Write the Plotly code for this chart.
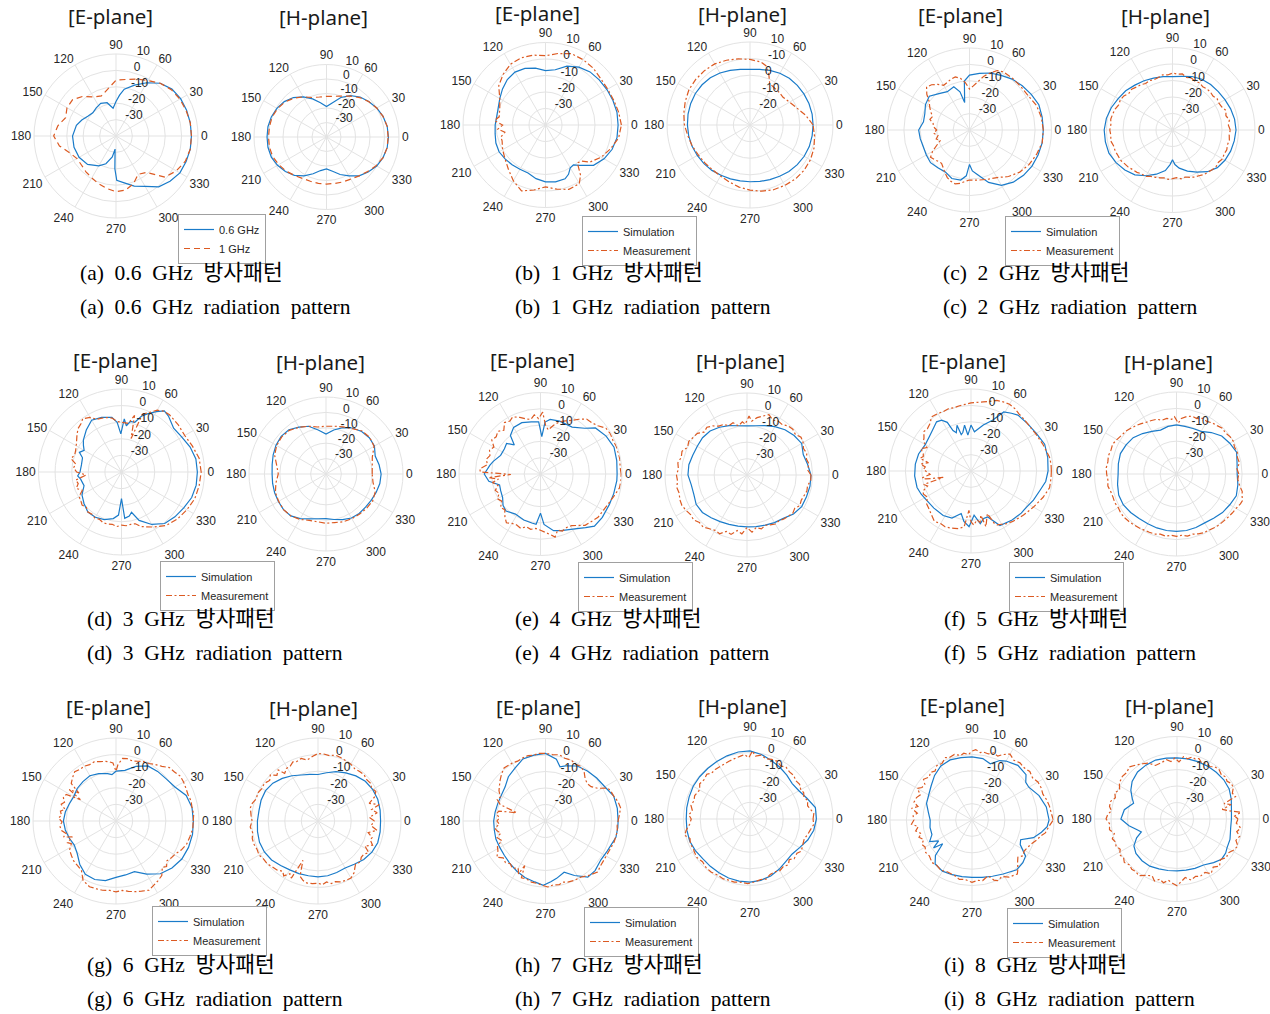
import plotly.graph_objects as go

W, H = 1270, 1014

# ---------------- data: (angle deg, gain dB) pairs ----------------
TH10 = [0, 10, 20, 30, 40, 50, 60, 70, 80, 90, 100, 110, 120, 130, 140, 150, 160, 170,
        180, 190, 200, 210, 220, 230, 240, 250, 260, 270, 280, 290, 300, 310, 320, 330, 340, 350]

# (a) 0.6 GHz / 1 GHz
A_E_SIM = [(0,6),(10,6),(20,5.8),(30,5.5),(40,4.5),(50,2),(60,-2.5),(70,-7),(80,-11),(85,-15),(90,-19),(96,-23),(105,-19),(115,-18),(125,-19),(135,-20),(145,-19),(155,-17),(165,-15),(180,-13.5),(195,-13.5),(210,-14),(225,-15.5),(240,-19),(250,-22),(260,-27),(266,-32),(268,-20),(271,-13),(280,-11),(290,-7.5),(300,-4.5),(310,0.5),(320,3),(330,5),(340,5.5),(350,6)]
A_E_MEA = [(0,6),(10,6),(20,5.5),(30,5),(40,4),(50,2),(60,-1),(70,-3),(80,-5),(90,-6),(100,-11),(110,-14),(120,-12.5),(130,-8.5),(140,-5.5),(150,-5.5),(160,-7.3),(170,-4),(180,-2),(190,-5),(200,-10),(210,-12.5),(220,-12.5),(230,-11.5),(240,-10.5),(250,-9),(260,-7.5),(270,-6),(280,-6.5),(290,-9),(300,-13),(310,-11),(320,-1),(330,2.5),(340,5),(350,6)]
A_H_SIM = [2.7,2.5,1.5,0,-2,-4,-7,-11,-16,-19,-16,-12,-8,-4.5,-2,-0.5,0.5,1,1,1,0.5,-1,-3,-5.5,-9,-13,-16.5,-18,-16,-12.5,-9,-5,-2.5,0,1.5,2.5]
A_H_MEA = [2.5,2.5,1.5,0,-2,-4.5,-7.5,-10,-11.5,-12,-12,-11,-8,-5,-2.5,-1,0,0,0,0,-0.5,-2,-3.5,-5.5,-7,-7.5,-7.5,-7.5,-7.5,-7,-6.5,-5,-3,-0.5,1.5,2.5]

# (b) 1 GHz
B_E_SIM = [(0,4),(10,4),(20,3.5),(30,3),(40,2.5),(50,2),(60,0.5),(70,-2),(80,-6),(90,-7),(100,-5),(110,-3.5),(120,-3),(130,-4),(140,-6),(150,-8),(160,-9.5),(170,-10),(180,-9.5),(190,-9),(200,-8),(210,-7.5),(220,-8),(230,-8.5),(240,-9),(250,-9),(260,-7),(270,-5.5),(280,-5),(290,-5.3),(295,-7),(300,-10),(305,-10.5),(310,-8),(320,-2),(330,1),(340,3),(350,4)]
B_E_MEA = [(0,6),(10,5),(20,4),(30,3.5),(40,3.7),(50,5),(60,5.7),(70,6),(80,4),(90,2),(100,3),(110,3.3),(120,2.5),(130,0),(140,-3),(150,-8),(160,-10.5),(170,-11.5),(175,-9),(180,-14),(185,-11),(190,-15),(195,-12),(200,-12),(210,-10),(220,-8),(230,-5),(240,-1),(250,2.5),(260,0),(270,-2.5),(280,-0.5),(290,1.5),(300,1),(305,-3),(310,-10),(315,-9),(320,-5),(330,-1),(340,2),(350,5)]
B_H_SIM = [-2,-2,-2.2,-2.5,-2.8,-3.2,-4,-5,-6,-6.5,-6,-5,-3.8,-2.8,-2.3,-2,-2,-2.1,-2.3,-2.5,-2.8,-3.3,-3.8,-4.3,-5,-5.5,-5.8,-5.8,-5.5,-5,-4.3,-3.5,-2.8,-2.3,-2,-2]
B_H_MEA = [(0,-2),(10,-6),(20,-10),(30,-12.5),(40,-14),(50,-13.5),(60,-13),(65,-12),(70,-7),(75,-3),(80,-1.5),(90,-0.5),(100,0.5),(110,1.5),(120,2.5),(130,2.7),(140,2.7),(150,2.5),(160,1.5),(170,0.5),(180,-0.5),(190,-2),(200,-3),(210,-4),(220,-4.5),(230,-4.8),(240,-4.5),(250,-3.5),(260,-2),(270,-0.8),(280,0.5),(290,1.5),(300,2),(310,2.5),(320,2.5),(330,2),(340,1),(350,-0.5)]

# (c) 2 GHz
C_E_SIM = [(0,5),(10,5),(20,5),(30,3.5),(40,2),(50,0.5),(60,-1.5),(70,-3),(80,-5),(90,-6.5),(96,-10),(100,-23),(104,-16),(110,-12),(120,-13),(130,-11),(140,-8),(150,-9),(160,-11),(170,-11.5),(180,-9),(190,-9.5),(200,-10),(210,-9.6),(220,-9),(230,-10),(240,-10.5),(250,-8.5),(260,-9),(266,-12),(270,-19),(274,-15),(280,-12.5),(290,-6),(300,-1),(310,1.5),(320,3),(330,4),(340,4.5),(350,5)]
C_E_MEA = [(0,5),(10,4.5),(20,3.5),(30,1.5),(40,1),(50,1),(60,1),(65,0),(70,-3),(75,-6),(80,-10),(85,-13),(90,-15),(95,-11),(100,-8),(105,-6.5),(110,-7),(115,-8),(120,-8.5),(125,-6),(130,-4),(135,-3),(140,-6),(145,-10),(150,-12),(155,-14),(160,-16),(165,-15),(170,-17.5),(175,-18),(180,-20),(185,-18),(190,-20.5),(195,-19),(200,-21),(205,-18),(210,-14),(215,-11),(220,-12),(225,-13),(230,-13.5),(235,-12),(240,-10),(245,-8),(250,-6.7),(255,-6),(260,-7),(265,-8.5),(270,-9.5),(280,-9),(290,-8),(300,-6.5),(310,-3),(320,0),(330,2),(340,3.5),(350,5)]
C_H_SIM = [(0,-1.5),(10,-1.8),(20,-2.5),(30,-3.3),(40,-3.8),(50,-4),(60,-4.5),(70,-5.5),(80,-7),(90,-7.6),(100,-7.2),(110,-6.5),(120,-5.5),(130,-4.5),(140,-3),(150,-2),(160,-0.5),(170,0.7),(180,1.4),(190,1.3),(200,1),(210,-0.5),(220,-2.3),(230,-4.5),(240,-8),(250,-11.5),(260,-15),(266,-19),(270,-22),(274,-19),(280,-16.5),(290,-13.5),(300,-10.5),(310,-7),(320,-4.5),(330,-3.3),(340,-2.5),(350,-2)]
C_H_MEA = [(0,-5),(5,-6),(10,-5),(15,-6.5),(20,-5.5),(25,-7),(30,-7.5),(35,-7),(40,-8),(45,-7.5),(50,-7.5),(55,-8),(60,-7),(65,-7.5),(70,-6.5),(75,-7),(80,-5.5),(85,-6),(90,-5.5),(95,-6.5),(100,-6),(105,-7),(110,-7.5),(115,-7),(120,-7.5),(125,-6.5),(130,-6),(135,-5),(140,-5.5),(145,-4),(150,-3.5),(155,-4),(160,-3),(165,-2.5),(170,-2),(175,-2.5),(180,-2),(185,-2.5),(190,-2),(195,-3),(200,-3),(205,-3.5),(210,-3.5),(215,-4.5),(220,-5),(225,-6),(230,-6.5),(235,-7.5),(240,-7.5),(245,-9),(250,-9.5),(255,-10),(260,-10.5),(265,-10),(270,-10.5),(275,-11),(280,-10),(285,-10.5),(290,-9.5),(295,-8.5),(300,-8),(305,-7),(310,-6.5),(315,-6),(320,-5.5),(325,-6),(330,-5),(335,-5.5),(340,-5),(345,-5.5),(350,-5),(355,-5.5)]

# (d) 3 GHz
D_E_SIM = [(0,5.7),(10,5.5),(20,4),(30,2),(40,1),(50,4),(55,5),(60,2),(65,-1),(70,-4),(75,-9),(80,-9),(84,-12),(87,-8),(91,-17),(95,-10),(100,-6.5),(110,-5),(120,-4),(130,-7),(140,-10),(145,-12),(150,-14),(155,-12),(160,-15),(170,-15.5),(180,-15),(185,-13.5),(190,-15),(200,-16),(210,-12.5),(220,-10.5),(230,-8.5),(240,-8.5),(250,-9.5),(260,-11.5),(266,-14),(270,-24),(274,-12),(280,-13),(284,-15),(290,-9),(300,-3.5),(310,0.5),(320,2),(330,3.3),(340,5),(350,5.7)]
D_E_MEA = [(0,8),(10,7.5),(20,5.5),(30,4),(40,4.5),(50,5),(55,4.7),(60,3),(65,-0.5),(70,-3),(74,-19),(77,-5),(82,-10.5),(90,-10),(95,-9.5),(100,-7),(105,-6),(110,-5.5),(115,-5),(120,-2),(126,-0.3),(130,-2),(135,-3),(140,-5),(145,-7),(150,-8.5),(155,-9.5),(160,-10),(165,-8.5),(170,-12),(175,-11),(180,-13),(185,-18.5),(190,-12),(195,-13),(200,-11),(205,-14),(210,-10.5),(215,-10),(220,-9),(225,-10),(230,-8.5),(235,-9),(240,-8),(245,-8.5),(250,-7.5),(255,-7.5),(260,-8),(265,-7),(270,-8),(275,-7.5),(280,-8),(285,-7.7),(290,-5),(300,-1.7),(310,2),(320,4),(330,5.5),(340,7),(350,7.5)]
D_H_SIM = [-4.2,-5,-6,-3.7,-3.3,-4,-5.5,-8,-11,-14,-11,-7,-4.8,-2.5,-2,-2.5,-3.5,-4.5,-5,-4.8,-4.5,-4.3,-4,-4.5,-6.5,-9,-10.5,-11,-10,-8.5,-7,-6.5,-6.5,-6,-5.3,-4.5]
D_H_MEA = [-10,-9.5,-8,-4,-3,-3.5,-6,-7.5,-8.5,-9,-9,-7,-5,-3,-2.5,-3,-4.5,-7.5,-9,-7,-5,-4.5,-4,-4.5,-6,-8,-8.5,-8,-8,-7,-6.5,-6,-5.5,-5,-6,-9]

# (e) 4 GHz
E_E_SIM = [(0,7),(10,7.5),(20,8),(30,6.5),(40,4),(46,-1),(56,-5.3),(70,-5.5),(80,-6),(85,-8),(88,-17),(92,-8),(100,-7.5),(110,-6.5),(120,-7),(128,-10),(132,-16),(138,-12),(145,-13),(155,-13),(165,-10),(170,-8.5),(180,-5.5),(188,-8),(195,-14),(203,-13.5),(212,-12.6),(220,-10),(227,-9),(238,-11),(250,-10),(260,-9.5),(265,-9),(270,-16),(274,-9),(283,-4.3),(290,-3),(302,-0.3),(310,3),(316,6),(325,6.3),(336,6.2),(345,6.5),(355,7)]
E_E_MEA = [(0,9.5),(5,9),(10,9.5),(15,9.5),(20,9.5),(25,9),(30,9.5),(35,9),(40,6),(45,4.5),(50,4),(55,1),(60,-2),(65,-4),(70,-6),(75,-9),(80,-12.5),(84,-10),(88,-2),(92,-6),(96,-3.5),(100,-6),(105,-5),(110,-3),(116,-1),(120,-2.5),(125,-1.5),(130,-5),(135,-3),(140,-4.5),(145,-3.5),(150,-7),(155,-5.5),(160,-7),(165,-5.5),(170,-7),(175,-2.7),(178,-3),(181,-21.8),(184,-8),(187,-14),(190,-10),(195,-13),(200,-10.5),(205,-12),(210,-9.5),(215,-11),(220,-8),(225,-9),(230,-6),(235,-3.5),(240,-5),(245,-5.5),(250,-4.5),(255,-6.5),(260,-5.5),(265,-6.5),(270,-5.5),(275,-4),(280,-2),(283,-0.3),(287,-4),(291,-2.5),(296,-3.5),(301,-3),(306,-1),(311,1.7),(316,2.5),(323,4.2),(330,4.5),(336,5.4),(343,7),(350,9.2),(355,9.5)]
E_H_SIM = [-1,-2.5,-3.5,-1.5,-2.5,-4,-6,-8,-9.5,-10,-9.5,-8,-6.4,-5,-4.6,-5,-4.8,-4,-4,-5.5,-5.5,-4.2,-4.5,-6,-7.2,-8,-8.3,-8.4,-8,-7.5,-6.5,-5.5,-3,-1.5,-1.4,-1]
E_H_MEA = [(0,-1),(5,-3),(10,-1.6),(15,-2.5),(20,-1.2),(25,-2),(30,-0.5),(35,0.2),(40,-1.5),(45,-0.5),(50,-1),(55,-2.5),(60,-2),(65,-3),(70,-0.8),(75,-2.8),(80,-4.5),(85,-7),(88,-4),(92,-9),(95,-7.5),(100,-9.6),(105,-7),(110,-8),(115,-6),(120,-5.6),(125,-3.5),(130,-2),(135,-3),(140,-0.5),(145,0),(150,1),(155,0),(160,2.2),(165,1.5),(170,2.8),(175,2),(180,3),(185,2.5),(190,3.5),(195,2.8),(200,3.6),(205,3.8),(210,3),(215,2),(220,2.5),(225,1),(230,1.5),(235,0),(240,-1),(245,-0.5),(250,-3.4),(255,-2.5),(260,-5.6),(265,-4),(270,-8),(275,-5),(280,-7.5),(285,-6),(290,-7.4),(295,-6.5),(300,-5.5),(305,-6),(310,-5),(315,-4.5),(320,-3.6),(325,-4.5),(330,-2.8),(335,-3.5),(340,-3),(345,-2.2),(350,-2.5),(355,-1)]

# (f) 5 GHz
F_E_SIM = [(0,7),(10,7.5),(20,7.8),(30,6),(40,5),(50,4.5),(55,3),(61,1.2),(67,-6.4),(75,-11),(85,-16),(90,-12),(95,-18),(98,-11.8),(102,-16),(105,-17),(107,-10.8),(111,-15),(114,-13),(116,-7),(120,-4.2),(125,-3.4),(131,-5.2),(140,-7),(150,-7.8),(162,-6.4),(173,-5.8),(185,-5.5),(197,-5.6),(205,-6.5),(214,-7.6),(225,-8),(238,-8),(248,-9),(257,-13.4),(262,-9),(268,-6),(271,-10),(274,-13),(280,-7.4),(285,-10),(290,-10.2),(298,-2.4),(310,-1),(320,0),(327,0.4),(335,2),(344,3.6),(352,6)]
F_E_MEA = [(0,9),(5,9),(10,8.6),(15,7.5),(20,6.8),(25,6),(30,5.5),(35,5),(40,5),(45,5.2),(50,5.5),(55,6.5),(60,7),(65,6.5),(70,5.8),(75,4),(80,2.8),(85,2),(90,1.5),(95,0.8),(100,0.4),(105,0),(110,0.4),(115,0),(120,0.5),(126,0.8),(131,-1.8),(136,-3),(140,-2.5),(145,-5),(148,-5.8),(152,-9.6),(156,-6.5),(160,-9),(163,-9.6),(166,-8),(169,-13.6),(172,-9),(175,-12),(178,-11),(181,-13),(184.6,-15),(188,-10),(190,-12),(193,-22.6),(196,-10),(199,-12),(203,-8),(206,-7.8),(211,-9),(216,-6.4),(222,-5.5),(228,-4),(234,-2),(240,-3),(245,-2.5),(250,-3),(254,-3.6),(258,-4),(263,-5.8),(267,-16),(270,-9),(273,-7),(277,-10),(280,-8),(282.5,-12.4),(285,-4.8),(288,-9),(291,-12.2),(294,-5),(296,-3.4),(300,-2.5),(304,-1.2),(310,0),(320,1.8),(330,4),(340,6.8),(348,9),(355,9)]
F_H_SIM = [-3,-2.5,-1,-2.5,-4,-7,-10,-10.5,-10.5,-10,-10.5,-11.5,-10,-7.8,-5.5,-4.5,-3.6,-4,-4.4,-3.5,-2.5,-2.5,-3.5,-4.5,-5,-5,-5,-5,-5,-5.3,-5.6,-4.8,-3.4,-2.5,-1.2,-2]
F_H_MEA = [(0,-2),(5,-3),(10,-1),(15,-1.5),(20,-0.6),(25,-1),(30,0),(35,-0.2),(40,-1),(45,-0.5),(50,-1.5),(55,-2),(60,-3),(65,-2.5),(70,-4),(75,-3.5),(80,-4.4),(85,-6),(88,-9),(92,-5),(95,-6.5),(100,-5.6),(105,-6),(110,-4.5),(115,-4),(120,-3.5),(125,-2.5),(130,-1.5),(135,-0.6),(140,0.5),(145,1),(150,2),(155,3),(160,2.5),(165,3),(170,2.5),(175,3),(180,2.6),(185,2),(190,2.5),(195,1.5),(200,1.2),(205,1.5),(210,1),(215,1.5),(220,1.4),(225,1),(230,0.5),(235,0),(240,-0.5),(245,-0.8),(250,-1),(255,-2),(260,-1.5),(265,-2.5),(270,-2),(275,-2.5),(280,-1.5),(285,-2),(290,-1.2),(295,-0.5),(300,-0.5),(305,0),(310,0.5),(315,0.6),(320,1),(325,1.5),(330,2),(335,3),(338,3.4),(342,2),(345,1.5),(350,-1),(355,-2.5)]

# (g) 6 GHz
G_E_SIM = [(0,6.6),(10,6.5),(20,5),(30,1),(40,-0.5),(50,-1),(60,-1.7),(70,-5),(80,-9),(90,-10),(95,-12),(100,-11),(110,-9.6),(120,-8.5),(130,-9),(140,-9.5),(150,-10.6),(160,-10),(170,-9),(180,-8.3),(190,-9),(200,-10),(210,-11),(220,-9.5),(230,-6),(240,-3),(250,-2.5),(260,-3.5),(270,-6),(280,-7),(290,-7.5),(300,-3),(310,1.5),(320,4),(330,5.8),(340,6.5),(350,6.8)]
G_E_MEA = [(0,6.5),(5,7),(10,6.5),(15,6.8),(20,6.2),(25,6.5),(30,7),(35,7.2),(40,6),(45,5.5),(50,3),(55,1.5),(60,0),(65,-0.5),(70,-1.7),(75,-2.5),(80,-1.8),(84,-2.1),(88,-6),(90,-10),(93,-5),(97,-4),(100,-3.5),(105,-3),(110,-2),(115,-2.5),(120,-1.9),(125,-2),(130,-1.3),(135,-3),(140,-4.8),(143,-12),(146,-6),(149,-15),(152,-6),(156,-5.3),(160,-7),(163,-5.5),(167,-8.5),(170,-6),(174,-7),(177,-5.3),(181,-7.5),(185,-6),(190,-6.7),(194,-9),(197,-7),(200,-12),(204,-8),(207,-9.8),(212,-7),(218,-6),(223,-5),(229,-4.5),(235,-3.7),(241,0.9),(248,2.7),(254,2.5),(259,2.5),(265,2),(270,2.7),(275,2),(280,3),(285.6,4.2),(290,5),(295.5,6.2),(300,5),(305,4),(310,2.9),(315,-0.5),(318,1),(322,-1.1),(326,0),(331,0.9),(336,3),(342,4.8),(348,5.5),(354,6.5)]
G_H_SIM = [-2.3,-2,-1.7,-2,-2.8,-4.5,-6.5,-8.3,-10.5,-12,-11.5,-10.5,-8.5,-6.5,-4.5,-3.5,-3.5,-3.9,-3.5,-3,-2.5,-2.7,-3.5,-5,-6,-6.3,-6.5,-6.3,-6.5,-7,-7.3,-6,-4,-2.5,-1.7,-2]
G_H_MEA = [(0,-6),(4,-9),(8,-4),(12,-7),(15,-1.9),(19,-7.4),(23,-3),(27,-0.9),(32,-2),(36,-1),(40,-1.5),(45,-0.7),(50,-1),(55,-1.5),(60,-0.5),(65,0),(70,0.5),(75,1.1),(80,0),(85,0.5),(90,0.7),(95,-1),(100,-2.7),(105,-1),(110,-2),(113,-1.3),(117,-3),(121,-3.1),(125,-5),(128,-1),(132,-3),(136,-0.1),(140,-2),(145,-0.5),(150,-0.9),(155,0),(160,-0.5),(165,1),(169,1.5),(175,0.5),(180,-0.3),(185,1),(190,0),(195,1),(200,1),(205,0.5),(210,1),(215,0),(220,0),(225,-1),(230,-1.5),(235,-3),(238,-1),(242,-4),(245,-2),(249,-14.6),(252,-5),(256,-3),(260,-2),(265,-2.1),(270,-2.5),(274,-1.5),(278,-2.9),(282,-1.5),(286,-2),(290,-1),(295,-0.5),(300,-0.3),(305,-2),(308,-4),(311,-5.5),(316,-4.5),(320,-6),(324,-5.9),(328,-4),(332,-8),(336,-4),(340,-6.5),(343,-5.9),(347,-9),(351,-4),(355,-8)]

# (h) 7 GHz
H_E_SIM = [(0,4),(10,4.2),(20,4),(30,1.5),(40,0.5),(50,-0.5),(60,-1.5),(70,-4.5),(75,-6),(80,-2),(90,1),(100,0.5),(110,0),(120,-3),(130,-5),(140,-8),(150,-9),(160,-9.2),(170,-9),(180,-8.6),(190,-8.5),(200,-8),(210,-8),(220,-7.5),(230,-6.4),(240,-5),(250,-3.5),(260,-2.5),(268,-1),(275,-3),(281,-4.6),(290,-7),(298,-2.6),(307,2.6),(315,2.5),(325,1),(334,1.6),(347,3.8),(355,4)]
H_E_MEA = [(0,4),(5,5),(10,6.2),(15,5.5),(20,4),(25,3.5),(28,2.6),(32,-2.6),(37,-5.4),(42,-6),(47,-4.8),(52,-2),(57,-0.6),(62,-1),(67,0),(73,-0.2),(78,1),(84,0.5),(90,1),(96,1.2),(100,0.5),(105,1),(110,0.6),(115,0),(120,0.5),(128,0.8),(133,-1),(138,-3),(143,-5),(147,-6.4),(152,-9),(156,-8),(160,-10.8),(164,-21.8),(168,-11),(172,-10),(176,-12),(180,-10.6),(184,-12),(188,-9),(191.5,-10),(195,-12),(199,-9),(204,-11),(208,-7),(212,-6),(216.8,-3.2),(221,-6),(226,-5),(230.5,-6.4),(235,-5),(240,-7),(243,-4),(245,-10.2),(247,-2.6),(252,-3),(257,-2),(263,-1.8),(267,-1),(272,0),(277,-1),(282,-0.5),(286,-1.5),(290,-0.6),(296,0),(302,0.2),(308,2),(315.5,4.2),(321,3),(328,2.5),(335,2.6),(343,3.5),(352,4),(356,3.5)]
H_H_SIM = [0,0,-3.5,-6,-6.8,-5.5,-4,-2.5,-0.5,1,1,0.5,0,-0.3,-0.4,-0.5,-1,-1.3,-1.6,-1.4,-1.3,-2,-2.8,-2.8,-2.6,-2.2,-2,-2,-2.5,-3.5,-5,-6.5,-7,-5.5,-3,-1]
H_H_MEA = [(0,-2),(5,-1.4),(10,-3.5),(13,-4.4),(18,-3.5),(22,-5),(26,-4),(30.5,-4.6),(35,-3.5),(40,-4),(45,-2.8),(50,-3),(55,-2),(60,-3),(65,-1.5),(70,-1.8),(75,-2.5),(80,-1),(85,-2),(88,1),(91,-3),(95,-1),(98,-1.6),(105,-2.5),(110,-3),(118.5,-3.6),(125,-3.5),(130,-4),(134,-2.5),(139,-3.6),(145,-3),(150,-5),(157,-3.8),(162,-4.5),(167,-3.5),(172,-5),(176,-3),(180,-4.6),(185,-3.5),(190,-1),(194,0.6),(198,-2),(203,-1),(207,-1.5),(211,-1),(216,-0.5),(222,-1.5),(228,-0.5),(234,-0.4),(240,-1),(246,-0.5),(250,-1),(256,-0.8),(262,-1.5),(268,-1),(274,-2),(280,-3),(285,-2.5),(290,-4.5),(295.5,-4.8),(300,-4),(305,-5),(310,-4),(314,-6),(318,-4.2),(324,-5),(328,-3.5),(333,-4.5),(340,-5.2),(345,-4),(350,-3),(355,-1.5)]

# (i) 8 GHz
I_E_SIM = [(0,7),(10,6),(20,3.5),(30,0),(35,0),(40,3),(50,3.5),(60,1.5),(65,0),(72,-4),(80,-2),(90,-1.5),(100,-1.4),(110,-1),(120,-2),(130,-4.5),(140,-7.5),(150,-9.5),(160,-10.5),(170,-13),(180,-14.5),(190,-14),(200,-14),(207,-11),(212,-16),(216,-11),(219,-17),(224,-9),(230,-5),(240,-4),(250,-4.5),(260,-5),(270,-5),(280,-4.5),(290,-3.5),(300,-2),(312,0.8),(320,0.5),(326,-0.6),(333,-7),(338,-8),(344,-1),(350,3),(355,6)]
I_E_MEA = [(0,9.6),(5,8.5),(10,8),(15,7.2),(20,6),(25,6.5),(30,6.4),(35,5),(40,6),(45,5),(50,5.5),(55,4.5),(60,6.4),(65,4),(68,2),(72,3),(76,1.5),(80,2),(83,1.4),(87,3),(90,2),(93,0),(97,1),(100,0),(105,1.4),(110,0.5),(113,1.4),(118,-1),(123,-0.5),(127,-2.6),(131,-1.5),(135,-3),(140,-1.4),(143,-4),(147,-3.6),(150,-1.5),(154,-5),(158,-3.5),(163,-3),(166,-6),(169,-2.5),(173,-6.4),(176,-4),(180,-4.6),(184,-3),(187,-7),(191,-5),(195,-8),(198,-6),(202,-8.2),(206,-6),(210,-7),(215,-5.5),(220,-6),(226.8,-4.4),(232,-5),(238,-4),(245,-5),(253,-4.4),(258,-3),(263,-3.5),(270,-2),(275,-3),(280,-2.5),(286,-4.6),(290,-1),(293,0.2),(298,-1),(303,1.5),(310,3),(313,1),(317,-2),(321,-4),(325,-2),(329,-3),(333,-2.4),(338,-1),(343,1.4),(347,3),(350,5.4),(355,7)]
I_H_SIM = [(0,-7),(10,-6.5),(20,-5),(30,-3.5),(40,-3),(50,-3),(60,-3),(70,-3),(80,-3),(90,-3),(100,-2.5),(110,-2),(120,-2.3),(130,-2.8),(140,-4.5),(148,-7),(155,-10),(160,-12),(165,-10),(170,-7.6),(180,-6),(188,-10.6),(195,-15),(200,-17),(205,-13),(212,-9.2),(220,-7.5),(230,-7),(240,-7),(250,-7.8),(260,-8.3),(270,-8.6),(280,-8.5),(290,-8.2),(300,-7.8),(310,-5.5),(318,-3.6),(325,-4),(330,-5),(339,-5.6),(345,-6.5),(350,-7)]
I_H_MEA = [(0,-3),(3,-5),(6,-1),(9,-8),(12,-12),(15,-6),(18,-10),(21,-2),(25,-3),(29,-1),(33,-0.6),(37,-2),(41,-1),(45,-2),(50,-0.5),(54,-1),(58,-2.5),(62,-1.5),(66,-3),(70,-1),(73,-2),(76.5,-1.4),(80,-3),(84,-2),(88,-5.4),(92,-3),(96,-5),(100,-3.5),(105,-4.5),(112,-5),(117,-2),(122,-0.5),(127,1),(132.5,2.8),(137,1.5),(142,2),(148,1.2),(153,-1),(157,1),(161,-0.5),(165,1.6),(169.5,1.6),(173,0),(176,2),(180,3),(184,1),(189,1.4),(193,-1),(197,1),(200,0),(204,0.4),(208,-1),(212,1),(216,0),(219.5,1.4),(224,0),(228,1),(232,0.5),(236,1.4),(241,-1),(246.4,-2.4),(250,0),(254,-2),(258,-0.5),(262,-2.5),(266,-1),(270,0.4),(274,-2),(278,-4.2),(283,-2),(288,-3.5),(292,-2.5),(297.7,-3.4),(302,-1),(307,-3.5),(312,-1.5),(317,-4),(322,-2),(326.6,-2.8),(331,-1),(336,0.4),(340,-2),(344.7,-0.6),(348,-3),(352,-1),(356,-4)]

PANEL_LETTERS = ["a", "b", "c", "d", "e", "f", "g", "h", "i"]
PANEL_FREQS = ["0.6", "1", "2", "3", "4", "5", "6", "7", "8"]
SERIES_NAMES = ["Simulation", "Measurement"]
A_SERIES_NAMES = ["0.6 GHz", "1 GHz"]
PLANE_TITLES = ["[E-plane]", "[H-plane]"]
ANGLE_TICKS = [0, 30, 60, 90, 120, 150, 180, 210, 240, 270, 300, 330]
R_TICKS = [-30, -20, -10, 0, 10]
R_TICKTEXT = ["-30", "-20", "-10", "0", "10"]
B_H_RTICKTEXT = ["-20", "-10", "0", "-10", "10"]

CURVES = [
    (A_E_SIM, A_E_MEA, A_H_SIM, A_H_MEA),
    (B_E_SIM, B_E_MEA, B_H_SIM, B_H_MEA),
    (C_E_SIM, C_E_MEA, C_H_SIM, C_H_MEA),
    (D_E_SIM, D_E_MEA, D_H_SIM, D_H_MEA),
    (E_E_SIM, E_E_MEA, E_H_SIM, E_H_MEA),
    (F_E_SIM, F_E_MEA, F_H_SIM, F_H_MEA),
    (G_E_SIM, G_E_MEA, G_H_SIM, G_H_MEA),
    (H_E_SIM, H_E_MEA, H_H_SIM, H_H_MEA),
    (I_E_SIM, I_E_MEA, I_H_SIM, I_H_MEA),
]

# ---------------- layout geometry (pixels) ----------------
GEOM = [
    [(116, 136, 82), (326.5, 137, 72.5)],
    [(545.5, 125, 82.5), (750, 125, 83)],
    [(969.5, 130, 82), (1172.5, 130, 82.5)],
    [(121.5, 472, 83), (326, 474, 77)],
    [(540.5, 474, 81.5), (747, 475, 82)],
    [(971, 471, 82), (1176.5, 474, 82)],
    [(116, 821, 83), (318, 821, 83)],
    [(545.5, 821, 82.5), (750, 819, 83)],
    [(972, 820, 82), (1177, 819, 82.5)],
]
TITLE_POS = [
    [(110, 16), (323, 17)], [(537, 13), (742, 14)], [(960, 15), (1165, 16)],
    [(115, 360), (320, 362)], [(532, 360), (740, 361)], [(963, 361), (1168, 362)],
    [(108, 707), (313, 708)], [(538, 707), (742, 706)], [(962, 705), (1169, 706)],
]
LEGEND_POS = [(178, 214), (582, 216), (1005, 216), (160, 561), (578, 562), (1009, 562),
              (152, 906), (584, 907), (1007, 908)]
CAPTION_POS = [(78, 273), (513, 273), (941, 273), (85, 619), (513, 619), (942, 619),
               (85, 965), (513, 965), (942, 965)]
CAPTION_GAP = 34

BLUE = "#1a7bc9"
ORANGE = "#dc5a22"
GRID = "#e3e3e3"
TXT = "#262626"
TICK_FONT = dict(family="Liberation Sans, Arial", size=12, color=TXT)


def unpack(curve):
    if isinstance(curve[0], tuple):
        th = [p[0] for p in curve]
        r = [p[1] for p in curve]
    else:
        th = list(TH10)
        r = list(curve)
    return th + [th[0]], r + [r[0]]


fig = go.Figure()
layout = dict()
annotations = []

for p in range(9):
    legend_key = "legend" if p == 0 else f"legend{p + 1}"
    names = A_SERIES_NAMES if p == 0 else SERIES_NAMES
    mea_dash = "6px,4px" if p == 0 else "6px,2.5px,2px,2.5px"
    for plane in range(2):
        idx = 2 * p + plane + 1
        sub = "polar" if idx == 1 else f"polar{idx}"
        cx, cy, R = GEOM[p][plane]
        sim = CURVES[p][2 * plane]
        mea = CURVES[p][2 * plane + 1]
        for k, (curve, color, dash) in enumerate([(sim, BLUE, "solid"), (mea, ORANGE, mea_dash)]):
            th, r = unpack(curve)
            fig.add_trace(go.Scatterpolar(
                theta=th, r=r, mode="lines", subplot=sub,
                line=dict(color=color, width=1.2, dash=dash),
                name=names[k], showlegend=(plane == 0), legend=legend_key,
                hoverinfo="skip"))
        labels = B_H_RTICKTEXT if (p == 1 and plane == 1) else R_TICKTEXT
        rad = dict(range=[-40, 10], tickvals=R_TICKS,
                   ticktext=[t + "<br>\u00a0" for t in labels],
                   angle=80, tickangle=80, side="clockwise",
                   showline=False, ticks="", gridcolor=GRID, gridwidth=1,
                   tickfont=TICK_FONT, layer="above traces")
        layout[sub] = dict(
            domain=dict(x=[(cx - R) / W, (cx + R) / W], y=[1 - (cy + R) / H, 1 - (cy - R) / H]),
            bgcolor="white",
            radialaxis=rad,
            angularaxis=dict(tickvals=ANGLE_TICKS, ticktext=[str(a) for a in ANGLE_TICKS],
                             direction="counterclockwise", rotation=0,
                             gridcolor=GRID, gridwidth=1, showline=True, linecolor=GRID, linewidth=1,
                             ticks="", tickfont=TICK_FONT, layer="above traces"),
        )
        tx, ty = TITLE_POS[p][plane]
        annotations.append(dict(text=PLANE_TITLES[plane], x=tx / W, y=1 - ty / H,
                                xref="paper", yref="paper", xanchor="center", yanchor="middle",
                                showarrow=False,
                                font=dict(family="Noto Sans, Noto Sans CJK KR", size=20.5, color="#1a1a1a")))
    lx, ly = LEGEND_POS[p]
    layout[legend_key] = dict(x=lx / W, y=1 - ly / H, xanchor="left", yanchor="top",
                              bgcolor="white", bordercolor="#a0a0a0", borderwidth=1,
                              font=dict(family="Liberation Sans, Arial", size=11, color=TXT),
                              itemwidth=30, tracegroupgap=0)
    capx, capy = CAPTION_POS[p]
    sp = "\u00a0\u00a0"
    line1 = f"({PANEL_LETTERS[p]}){sp}{PANEL_FREQS[p]}{sp}GHz{sp}방사패턴"
    line2 = f"({PANEL_LETTERS[p]}){sp}{PANEL_FREQS[p]}{sp}GHz{sp}radiation{sp}pattern"
    for j, txt in enumerate([line1, line2]):
        annotations.append(dict(text=txt, x=capx / W, y=1 - (capy + j * CAPTION_GAP) / H,
                                xref="paper", yref="paper", xanchor="left", yanchor="middle",
                                showarrow=False,
                                font=dict(family="Liberation Serif, Noto Sans CJK KR", size=21.5, color="black")))

fig.update_layout(**layout)
fig.update_layout(width=W, height=H, autosize=False,
                  margin=dict(l=0, r=0, t=0, b=0),
                  paper_bgcolor="white", plot_bgcolor="white",
                  annotations=annotations)

fig.write_html("out.html", config={"displayModeBar": False},
               post_script="document.body.style.margin='0';document.body.style.overflow='hidden';")
